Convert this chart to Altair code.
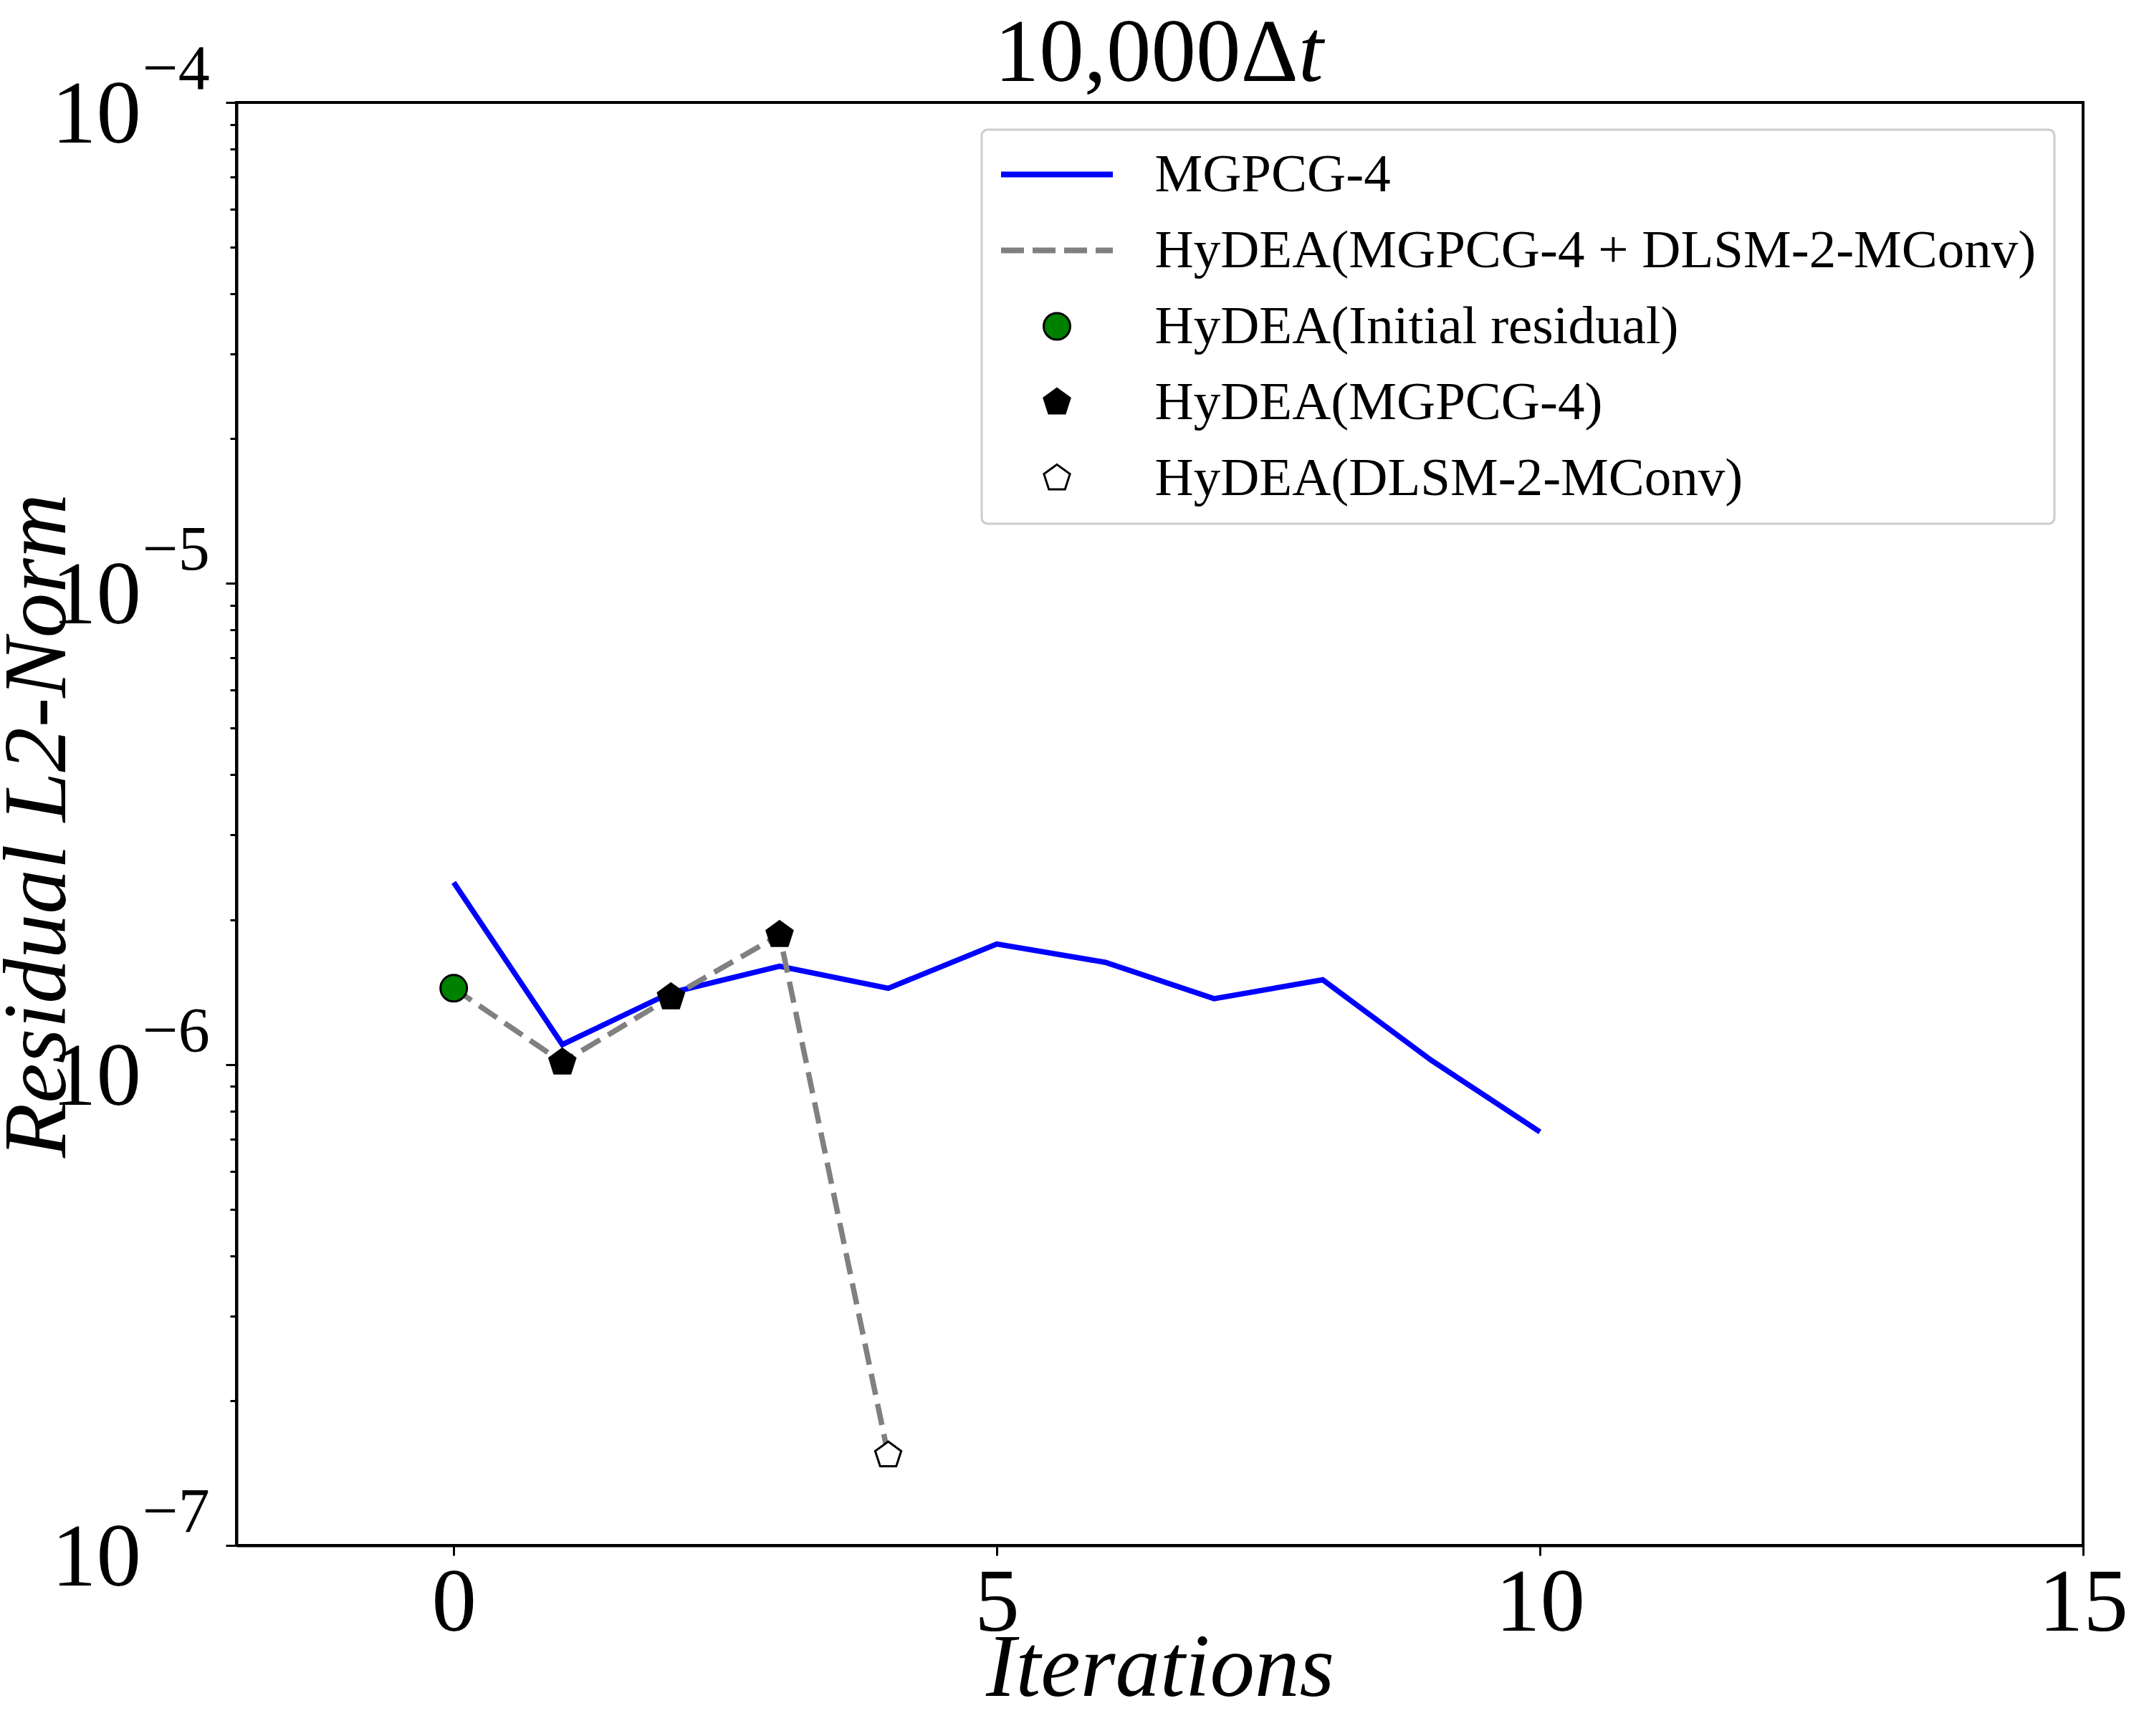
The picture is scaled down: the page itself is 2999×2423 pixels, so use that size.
import altair as alt
import pandas as pd

# ---- data -------------------------------------------------------------
# MGPCG-4 residual history
mg_iter = [0, 1, 2, 3, 4, 5, 6, 7, 8, 9, 10]
mg_res = [2.39e-6, 1.10e-6, 1.41e-6, 1.60e-6, 1.44e-6, 1.78e-6,
          1.63e-6, 1.37e-6, 1.50e-6, 1.02e-6, 7.24e-7]

# HyDEA residual history and the solver stage behind each point
hy_iter = [0, 1, 2, 3, 4]
hy_res = [1.44e-6, 1.01e-6, 1.38e-6, 1.86e-6, 1.54e-7]
hy_stage = ["HyDEA(Initial residual)", "HyDEA(MGPCG-4)", "HyDEA(MGPCG-4)",
            "HyDEA(MGPCG-4)", "HyDEA(DLSM-2-MConv)"]

# legend entries, in order
series = ["MGPCG-4", "HyDEA(MGPCG-4 + DLSM-2-MConv)", "HyDEA(Initial residual)",
          "HyDEA(MGPCG-4)", "HyDEA(DLSM-2-MConv)"]
fills = ["#0000ff", "#808080", "#008000", "#000000", "#ffffff"]
strokes = ["#0000ff", "#808080", "#000000", "#000000", "#000000"]

# tick positions / labels
x_ticks = [0, 5, 10, 15]
y_major = [1e-7, 1e-6, 1e-5, 1e-4]
y_exp = ["\u22127", "\u22126", "\u22125", "\u22124"]
y_minor = [m * 10.0 ** e for e in (-7, -6, -5) for m in range(2, 10)]

# ---- symbol paths (unit square, scaled by sqrt(size)/2) ---------------
SOLID = "M-4.135,-0.135H4.135V0.135H-4.135Z"
DASHED = ("M-4.135,-0.135H-2.568V0.135H-4.135Z "
          "M-1.757,-0.135H-0.189V0.135H-1.757Z "
          "M0.622,-0.135H2.189V0.135H0.622Z "
          "M3.0,-0.135H4.135V0.135H3.0Z")
PENTAGON = ("M0,-1.032L0.9815,-0.3189L0.6066,0.8349"
            "L-0.6066,0.8349L-0.9815,-0.3189Z")
shapes = [SOLID, DASHED, "circle", PENTAGON, PENTAGON]

SERIF = "Liberation Serif"
W, H = 2577, 2014

mg_df = pd.DataFrame({"iteration": mg_iter, "residual": mg_res})
hy_df = pd.DataFrame({"iteration": hy_iter, "residual": hy_res, "series": hy_stage})
ylab_df = pd.DataFrame({"residual": y_major, "base": ["10"] * len(y_major), "exp": y_exp})
title_df = pd.DataFrame({"main": ["10,000\u0394"], "var": ["t"]})

x_scale = alt.Scale(domain=[-2, 15], nice=False, zero=False)
y_scale = alt.Scale(type="log", domain=[1e-7, 1e-4], nice=False)

major_test = "abs(log(datum.value)/LN10 - round(log(datum.value)/LN10)) < 0.001"

x_axis = alt.Axis(
    values=x_ticks, title="Iterations", grid=False,
    labelFont=SERIF, labelFontSize=125, labelColor="black",
    labelBaseline="alphabetic", labelPadding=104, labelFlush=False,
    labelOverlap=False, tickSize=14, tickWidth=3, tickColor="black",
    domainColor="black", domainWidth=4,
    titleFont=SERIF, titleFontSize=125, titleFontStyle="italic",
    titleFontWeight="normal", titleColor="black",
    titleBaseline="alphabetic", titleY=209, titleX=W / 2,
)
y_axis = alt.Axis(
    values=y_major + y_minor, labels=False, grid=False,
    tickSize={"condition": {"test": major_test, "value": 15}, "value": 9},
    tickWidth=3, tickColor="black", domainColor="black", domainWidth=4,
    title="Residual L2-Norm", titleFont=SERIF, titleFontSize=125,
    titleFontStyle="italic", titleFontWeight="normal", titleColor="black",
    titleAngle=270, titleAlign="center", titleBaseline="alphabetic",
    titleX=-240, titleY=1009,
)

x_enc = alt.X("iteration:Q", scale=x_scale, axis=x_axis)
y_enc = alt.Y("residual:Q", scale=y_scale, axis=y_axis)

mg_line = alt.Chart(mg_df).mark_line(color="#0000ff", strokeWidth=7.5).encode(
    x=x_enc, y=y_enc,
)

hy_line = alt.Chart(hy_df).mark_line(
    color="#808080", strokeWidth=7.5, strokeDash=[30, 13]
).encode(x=x_enc, y=y_enc)

legend = alt.Legend(
    orient="none", legendX=1040, legendY=38, padding=25,
    symbolOffset=42.5, labelOffset=99, rowPadding=30,
    labelFont=SERIF, labelFontSize=75, labelColor="black", labelLimit=3000,
    symbolSize=1369, symbolStrokeWidth=3, symbolOpacity=1,
    fillColor="white", strokeColor="#cccccc", cornerRadius=8,
)

hy_points = alt.Chart(hy_df).mark_point(
    filled=True, size=1369, strokeWidth=3, opacity=1
).encode(
    x=x_enc, y=y_enc,
    color=alt.Color("series:N", title=None,
                    scale=alt.Scale(domain=series, range=fills), legend=legend),
    stroke=alt.Stroke("series:N", title=None,
                      scale=alt.Scale(domain=series, range=strokes), legend=legend),
    shape=alt.Shape("series:N", title=None,
                    scale=alt.Scale(domain=series, range=shapes), legend=legend),
)

# y tick labels drawn as base "10" with a raised exponent
ylab_base = alt.Chart(ylab_df).mark_text(
    align="right", baseline="alphabetic", dy=56,
    font=SERIF, fontSize=125, color="black",
).encode(x=alt.value(-133), y=y_enc, text="base:N")

ylab_exp = alt.Chart(ylab_df).mark_text(
    align="left", baseline="alphabetic", dy=-19,
    font=SERIF, fontSize=88, color="black",
).encode(x=alt.value(-131), y=y_enc, text="exp:N")

# title: upright "10,000Δ" followed by an italic "t"
title_main = alt.Chart(title_df).mark_text(
    align="right", baseline="alphabetic", font=SERIF, fontSize=125, color="black"
).encode(x=alt.value(1482), y=alt.value(-30), text="main:N")

title_var = alt.Chart(title_df).mark_text(
    align="left", baseline="alphabetic", font=SERIF, fontSize=125,
    fontStyle="italic", color="black"
).encode(x=alt.value(1482), y=alt.value(-30), text="var:N")

chart = alt.layer(
    mg_line, hy_line, hy_points, ylab_base, ylab_exp, title_main, title_var
).properties(
    width=W, height=H,
    autosize=alt.AutoSizeParams(type="none"),
    padding={"left": 330, "top": 143, "right": 92, "bottom": 266},
    background="white",
).configure_view(
    stroke="black", strokeWidth=4
).configure_legend(
    strokeWidth=3
)

chart.save("out.html", embed_options={"renderer": "svg", "actions": False})
